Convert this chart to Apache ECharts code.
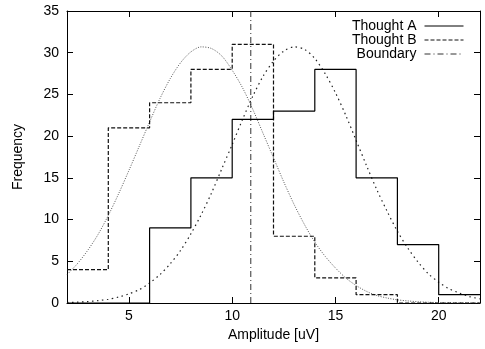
<!DOCTYPE html>
<html>
<head>
<meta charset="utf-8">
<script src="https://cdn.jsdelivr.net/npm/echarts@6/dist/echarts.min.js"></script>
<style>
  html, body { margin: 0; padding: 0; background: #fff; }
  #chart { width: 485px; height: 349px; }
</style>
</head>
<body>
<div id="chart"></div>
<script>
// Histogram bins: left edges (width 2 uV)
const binEdges = [2, 4, 6, 8, 10, 12, 14, 16, 18, 20];
const binEnd = 22;
const thoughtA = [0, 0, 9, 15, 22, 23, 28, 15, 7, 1];
const thoughtB = [4, 21, 24, 28, 31, 8, 3, 1, 0, 0];

// Fitted normal curves sampled every half amplitude unit
const fitX = [2, 2.5, 3, 3.5, 4, 4.5, 5, 5.5, 6, 6.5, 7, 7.5, 8, 8.5, 9, 9.5, 10, 10.5, 11, 11.5,
              12, 12.5, 13, 13.5, 14, 14.5, 15, 15.5, 16, 16.5, 17, 17.5, 18, 18.5, 19, 19.5, 20, 20.5, 21, 21.5, 22];
const fitA = [0.06, 0.10, 0.17, 0.28, 0.45, 0.71, 1.1, 1.6, 2.4, 3.4, 4.7, 6.3, 8.3, 10.6, 13.2, 16.1, 19.0, 22.0, 24.8, 27.2,
              29.0, 30.2, 30.7, 30.4, 29.3, 27.5, 25.2, 22.5, 19.5, 16.5, 13.6, 11.0, 8.6, 6.6, 4.9, 3.5, 2.5, 1.7, 1.2, 0.76, 0.5];
const fitB = [3.4, 4.7, 6.3, 8.2, 10.5, 13.1, 15.9, 18.8, 21.7, 24.5, 26.9, 28.8, 30.1, 30.7, 30.5, 29.6, 27.9, 25.8, 23.2, 20.3,
              17.4, 14.5, 11.8, 9.4, 7.3, 5.6, 4.2, 3.0, 2.1, 1.4, 0.9, 0.6, 0.38, 0.25, 0.15, 0.09, 0.05, 0.03, 0.02, 0.01, 0.0];

// Decision boundary between the two classes
const boundaryX = 10.9;

const xTicks = [5, 10, 15, 20];
const yMin = 0, yMax = 35, yStep = 5;

const FONT = '"Liberation Sans", Arial, Helvetica, sans-serif';

function stepData(edges, vals, end) {
  const d = edges.map((e, i) => [e, vals[i]]);
  d.push([end, vals[vals.length - 1]]);
  return d;
}
function pairData(xs, ys) {
  return xs.map((x, i) => [x, ys[i]]);
}

const chart = echarts.init(document.getElementById('chart'), null, { renderer: 'canvas' });

const axisLineStyle = { color: '#000', width: 1 };
const tickStyle = { inside: true, length: 6, lineStyle: { color: '#000', width: 1 } };

chart.setOption({
  animation: false,
  backgroundColor: '#fff',
  textStyle: { fontFamily: FONT },
  grid: { left: 67, right: 5, top: 11, bottom: 46, containLabel: false, outerBoundsMode: 'none' },
  legend: {
    data: ['Thought A', 'Thought B', 'Boundary'],
    orient: 'vertical',
    align: 'right',
    right: 21,
    top: 19,
    padding: 0,
    itemWidth: 39,
    itemHeight: 10,
    itemGap: 0,
    itemStyle: { opacity: 0 },
    lineStyle: { width: 1 },
    textStyle: { fontFamily: FONT, fontSize: 14, color: '#000', lineHeight: 11, padding: [0, 3, 0, 0] }
  },
  xAxis: [
    {
      type: 'value', min: 2, max: binEnd, position: 'bottom',
      name: 'Amplitude [uV]', nameLocation: 'middle', nameGap: 24,
      nameTextStyle: { fontFamily: FONT, fontSize: 14, color: '#000' },
      axisLine: { show: true, onZero: false, lineStyle: axisLineStyle },
      axisTick: Object.assign({ customValues: xTicks }, tickStyle),
      axisLabel: { customValues: xTicks, fontFamily: FONT, fontSize: 14, color: '#000', margin: 6 },
      splitLine: { show: false }
    },
    {
      type: 'value', min: 2, max: binEnd, position: 'top',
      axisLine: { show: true, onZero: false, lineStyle: axisLineStyle },
      axisTick: Object.assign({ customValues: xTicks }, tickStyle),
      axisLabel: { show: false },
      splitLine: { show: false }
    }
  ],
  yAxis: [
    {
      type: 'value', min: yMin, max: yMax, interval: yStep, position: 'left',
      name: 'Frequency', nameLocation: 'middle', nameGap: 42, nameRotate: 90,
      nameTextStyle: { fontFamily: FONT, fontSize: 14, color: '#000' },
      axisLine: { show: true, onZero: false, lineStyle: axisLineStyle },
      axisTick: tickStyle,
      axisLabel: { fontFamily: FONT, fontSize: 14, color: '#000', margin: 8 },
      splitLine: { show: false }
    },
    {
      type: 'value', min: yMin, max: yMax, interval: yStep, position: 'right',
      axisLine: { show: true, onZero: false, lineStyle: axisLineStyle },
      axisTick: tickStyle,
      axisLabel: { show: false },
      splitLine: { show: false }
    }
  ],
  series: [
    {
      name: 'Thought A', type: 'line', step: 'end', symbol: 'none',
      data: stepData(binEdges, thoughtA, binEnd),
      lineStyle: { color: '#000', width: 1.2, type: 'solid' },
      itemStyle: { color: '#000' }, z: 5
    },
    {
      name: 'Thought B', type: 'line', step: 'end', symbol: 'none',
      data: stepData(binEdges, thoughtB, binEnd),
      lineStyle: { color: '#111', width: 1.2, type: [4, 2] },
      itemStyle: { color: '#111' }, z: 4
    },
    {
      name: 'Boundary', type: 'line', symbol: 'none',
      data: [[boundaryX, yMin], [boundaryX, yMax]],
      lineStyle: { color: '#333', width: 1, type: [6, 3, 1, 3] },
      itemStyle: { color: '#333' }, z: 3
    },
    {
      name: 'fit A', type: 'line', symbol: 'none', smooth: 0.3,
      data: pairData(fitX, fitA),
      lineStyle: { color: '#222', width: 1.2, type: [1.5, 3.5] }, z: 2
    },
    {
      name: 'fit B', type: 'line', symbol: 'none', smooth: 0.3,
      data: pairData(fitX, fitB),
      lineStyle: { color: '#555', width: 1, type: [1, 1.5] }, z: 2
    }
  ]
});
</script>
</body>
</html>
